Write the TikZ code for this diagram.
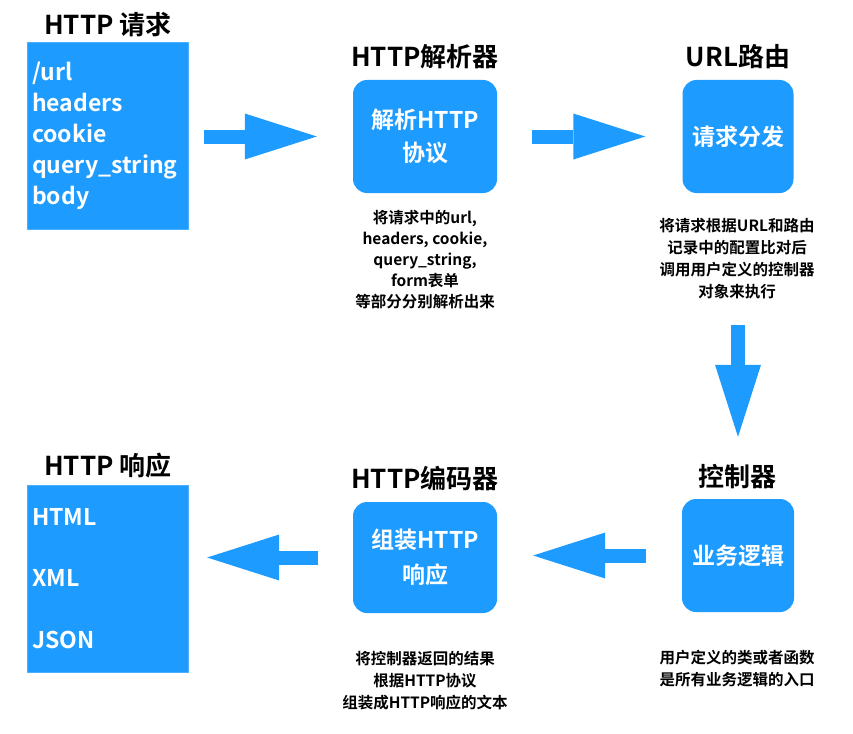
\documentclass[tikz,border=0pt]{standalone}
\usepackage{fontspec}
\setmainfont{Noto Sans CJK SC}[BoldFont=* Bold]
\usetikzlibrary{arrows.meta}
\begin{document}
\begin{tikzpicture}[x=1pt,y=-1pt,font=\bfseries,line join=round,
		sqbox/.style={fill=boxblue,draw=boxblue!80!white,minimum width=161pt,minimum height=187pt,inner xsep=5pt,text width=151pt,align=left,text=white,font=\fontsize{23}{31}\selectfont\bfseries},
		rbox/.style={fill=boxblue,rounded corners=14pt,minimum height=113pt,text=white,align=center,font=\fontsize{23}{33}\selectfont\bfseries},
		boxtitle/.style={font=\fontsize{26}{30}\selectfont\bfseries,inner sep=0pt},
		notetext/.style={align=center,font=\fontsize{15.5}{22}\selectfont\bfseries,inner sep=0pt},
		bigarrow/.style={boxblue,line width=14pt,-{Triangle[length=72pt,width=46pt,line width=0pt]}}]
			\definecolor{boxblue}{RGB}{30,155,255}
			\useasboundingbox (0,0) rectangle (853,733);
			
			\node[boxtitle] (reqtitle) at (108,25) {HTTP 请求};
			\node[sqbox] (req) at (107.5,135.5) {/url\\headers\\cookie\\query\_string\\body};
			
			\node[boxtitle] (parsetitle) at (425,57) {HTTP解析器};
			\node[rbox,minimum width=144pt] (parse) at (425,136.5) {解析HTTP\\协议};
			\node[notetext,font=\fontsize{15.5}{21}\selectfont\bfseries] (parsenote) at (425,260) {将请求中的url,\\headers, cookie,\\query\_string,\\form表单\\等部分分别解析出来};
			
			\node[boxtitle] (routetitle) at (738,57) {URL路由};
			\node[rbox,minimum width=111pt] (route) at (738,136.5) {请求分发};
			\node[notetext] (routenote) at (737,258.5) {将请求根据URL和路由\\记录中的配置比对后\\调用用户定义的控制器\\对象来执行};
			
			\node[boxtitle] (ctrltitle) at (737,477) {控制器};
			\node[rbox,minimum width=112pt] (ctrl) at (738,555.5) {业务逻辑};
			\node[notetext] (ctrlnote) at (737,669) {用户定义的类或者函数\\是所有业务逻辑的入口};
			
			\node[boxtitle] (enctitle) at (425,479) {HTTP编码器};
			\node[rbox,minimum width=144pt,minimum height=111pt,font=\fontsize{23}{35}\selectfont\bfseries] (enc) at (425,557.5) {组装HTTP\\响应};
			\node[notetext] (encnote) at (425,680.5) {将控制器返回的结果\\根据HTTP协议\\组装成HTTP响应的文本};
			
			\node[boxtitle] (resptitle) at (108,466) {HTTP 响应};
			\node[sqbox,font=\fontsize{23}{61.5}\selectfont\bfseries] (resp) at (107.5,578.5) {HTML\\XML\\JSON};
			
			\draw[bigarrow,shorten <=16pt,shorten >=36pt] (req.east |- parse.west) -- (parse.west);
			\draw[bigarrow,shorten <=35pt,shorten >=37pt] (parse) -- (route);
			\draw[bigarrow,shorten <=132pt,shorten >=62pt] (route) -- (ctrl);
			\draw[bigarrow,shorten <=36pt,shorten >=36pt] (ctrl.west) -- (enc.east |- ctrl.west);
			\draw[bigarrow,shorten <=35pt,shorten >=19pt] (enc.west) -- (resp.east |- enc.west);
		\end{tikzpicture}
\end{document}
